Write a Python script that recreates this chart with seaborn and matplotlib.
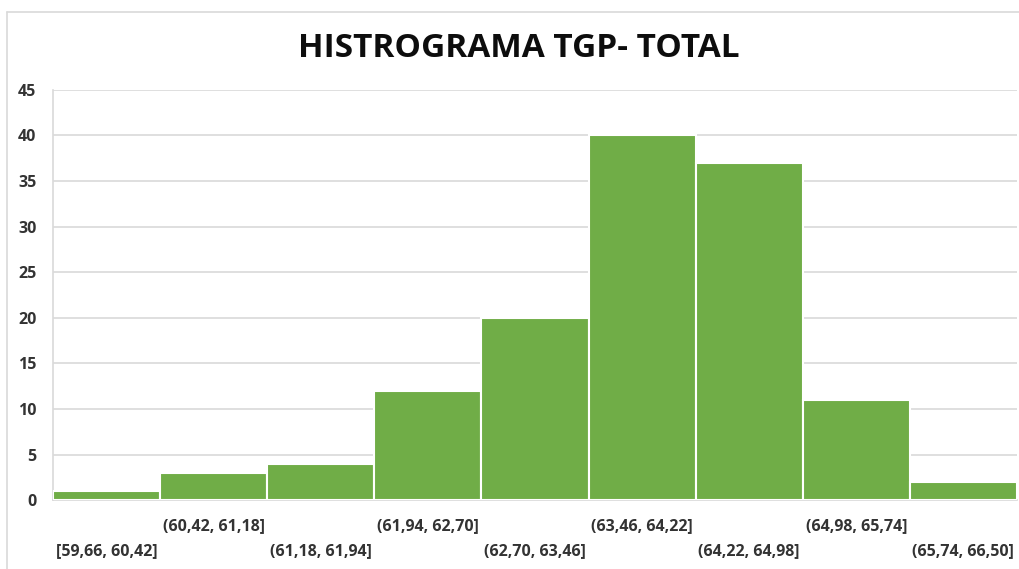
import pandas as pd
import matplotlib.pyplot as plt
import seaborn as sns

# Histogram classes and frequencies
bins = ['[59,66, 60,42]', '(60,42, 61,18]', '(61,18, 61,94]', '(61,94, 62,70]',
        '(62,70, 63,46]', '(63,46, 64,22]', '(64,22, 64,98]', '(64,98, 65,74]',
        '(65,74, 66,50]']
counts = [1, 3, 4, 12, 20, 40, 37, 11, 2]
yticks = [0, 5, 10, 15, 20, 25, 30, 35, 40, 45]

df = pd.DataFrame({'clase': bins, 'frecuencia': counts})

sns.set_style('white')
plt.rcParams['font.family'] = ['Open Sans', 'DejaVu Sans']

fig = plt.figure(figsize=(10.2, 5.69), dpi=100)
ax = fig.add_axes([0.052, 0.121, 0.945, 0.721])

sns.barplot(data=df, x='clase', y='frecuencia', color='#70AD47', saturation=1,
            width=1.0, edgecolor='white', linewidth=1.5, ax=ax, zorder=3)

ax.set_ylim(0, 45)
ax.set_yticks(yticks)
ax.set_yticklabels([str(t) for t in yticks], fontsize=11.5, fontweight='bold', color='#333333')
ax.grid(axis='y', color='#d9d9d9', linewidth=1.2, zorder=0)
ax.set_xlim(-0.5, len(bins) - 0.5)

# staggered category labels, like Excel does when they don't fit
labels = []
for i, b in enumerate(bins):
    labels.append(b + '\n' if i % 2 == 1 else '\n' + b)
ax.set_xticks(range(len(bins)))
ax.set_xticklabels(labels, fontsize=11.5, fontweight='bold', color='#333333', linespacing=1.7)
ax.tick_params(axis='y', length=0, pad=12)
ax.tick_params(axis='x', length=0, pad=13)
ax.set_xlabel('')
ax.set_ylabel('')
for s in ['top', 'right']:
    ax.spines[s].set_visible(False)
ax.spines['left'].set_color('#d9d9d9')
ax.spines['bottom'].set_color('#d9d9d9')
ax.spines['left'].set_linewidth(1.2)
ax.spines['bottom'].set_linewidth(1.2)

fig.text(0.509, 0.915, 'HISTROGRAMA TGP- TOTAL', ha='center', va='center',
         fontsize=24, fontweight='bold', color='#0d0d0d')

# chart frame (top and left edges visible in the reference)
fig.add_artist(plt.Line2D([7 / 1020, 1], [1 - 12 / 569, 1 - 12 / 569],
                          color='#d9d9d9', linewidth=1.2, transform=fig.transFigure))
fig.add_artist(plt.Line2D([7 / 1020, 7 / 1020], [0, 1 - 12 / 569],
                          color='#d9d9d9', linewidth=1.2, transform=fig.transFigure))

fig.savefig('out.png', dpi=100)
